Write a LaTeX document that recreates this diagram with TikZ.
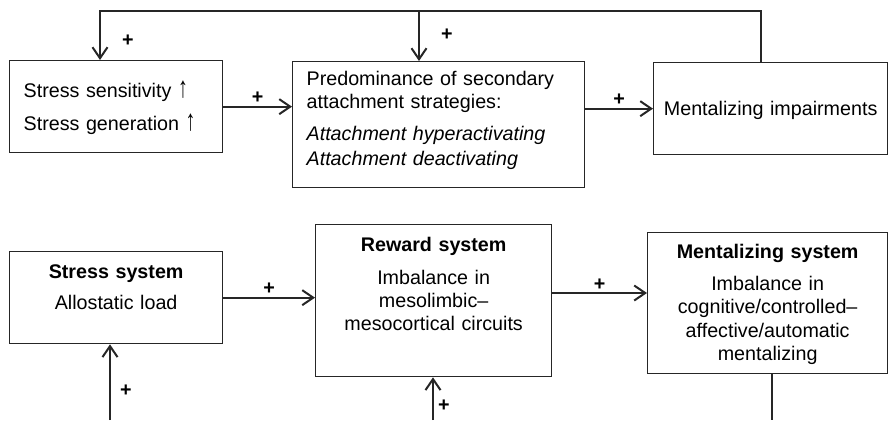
\documentclass[tikz,border=0pt]{standalone}
\usepackage{fontspec}
\usepackage{graphicx}
\setmainfont{Liberation Sans}
\usetikzlibrary{arrows.meta,positioning}
\newcommand{\uparr}{\scalebox{1}[1.5]{↑}}
\tikzset{
  box/.style={draw=black!85, line width=0.65pt, inner ysep=0pt, inner xsep=7pt,
    anchor=north west, font=\fontsize{9.85}{11.65}\selectfont},
  leftbox/.style={box, align=left},
  midbox/.style={box, align=center},
  link/.style={line width=1pt, draw=black!85},
  arrow/.style={link, -{Straight Barb[length=5.5pt,width=7.5pt]}},
  plus/.style={font=\fontsize{9.85}{11.65}\selectfont\bfseries, inner sep=1pt}
}
\begin{document}
\begin{tikzpicture}[x=0.5pt, y=-0.5pt]
\useasboundingbox (0,0) rectangle (888,420);

% Upper row
\node[leftbox, text width=92.5pt, text height=18.5pt, text depth=27.5pt] (sens) at (9,60)
  {Stress sensitivity \uparr\\[4.85pt]Stress generation \uparr};
\node[leftbox, text width=132pt, text height=12pt, text depth=51pt] (predom) at (292,61)
  {Predominance of secondary\\attachment strategies:\\[4.35pt]\textit{Attachment hyperactivating}\\[0.85pt]\textit{Attachment deactivating}};
\node[midbox, inner xsep=2pt, text width=113pt, text height=26.5pt, text depth=19.5pt] (impair) at (653,62)
  {Mentalizing impairments};

% Lower row
\node[midbox, text width=92.5pt, text height=13.5pt, text depth=32.5pt] (stress) at (9,251)
  {\textbf{Stress system}\\[3.85pt]Allostatic load};
\node[midbox, text width=104pt, text height=13.25pt, text depth=62.75pt] (reward) at (315,224)
  {\textbf{Reward system}\\[4.85pt]Imbalance in\\mesolimbic–\\mesocortical circuits};
\node[midbox, text width=106pt, text height=13pt, text depth=57.5pt] (mentsys) at (647,232)
  {\textbf{Mentalizing system}\\[4.35pt]Imbalance in\\cognitive/controlled–\\affective/automatic\\mentalizing};

% Feedback loop on top
\coordinate (loopR) at (761,11);
\coordinate (loopL) at (100,11);
\coordinate (loopM) at (419,11);
\draw[arrow] (impair.north -| loopR) |- (loopL) -- (sens.north -| loopL)
  node[plus, pos=0.6, right=9.5pt] {+};
\draw[arrow] (loopM) -- (predom.north -| loopM) node[plus, pos=0.48, right=9.5pt] {+};

% Horizontal links
\draw[arrow] (sens.east) -- (sens.east -| predom.west) node[plus, midway, above] {+};
\draw[arrow] (impair.west -| predom.east) -- (impair.west) node[plus, midway, above] {+};
\draw[arrow] (stress.east) -- (stress.east -| reward.west) node[plus, midway, above] {+};
\coordinate (rm) at (600,293);
\draw[arrow] (reward.east |- rm) -- (mentsys.west |- rm) node[plus, midway, above] {+};

% Links from below
\coordinate (baseD) at (110,420);
\coordinate (baseE) at (433,420);
\coordinate (baseF) at (772,420);
\draw[arrow] (baseD) -- (stress.south -| baseD) node[plus, pos=0.39, right=3.6pt] {+};
\draw[arrow] (baseE) -- (reward.south -| baseE) node[plus, pos=0.34, right=1.1pt] {+};
\draw[link] (mentsys.south -| baseF) -- (baseF);
\end{tikzpicture}
\end{document}
